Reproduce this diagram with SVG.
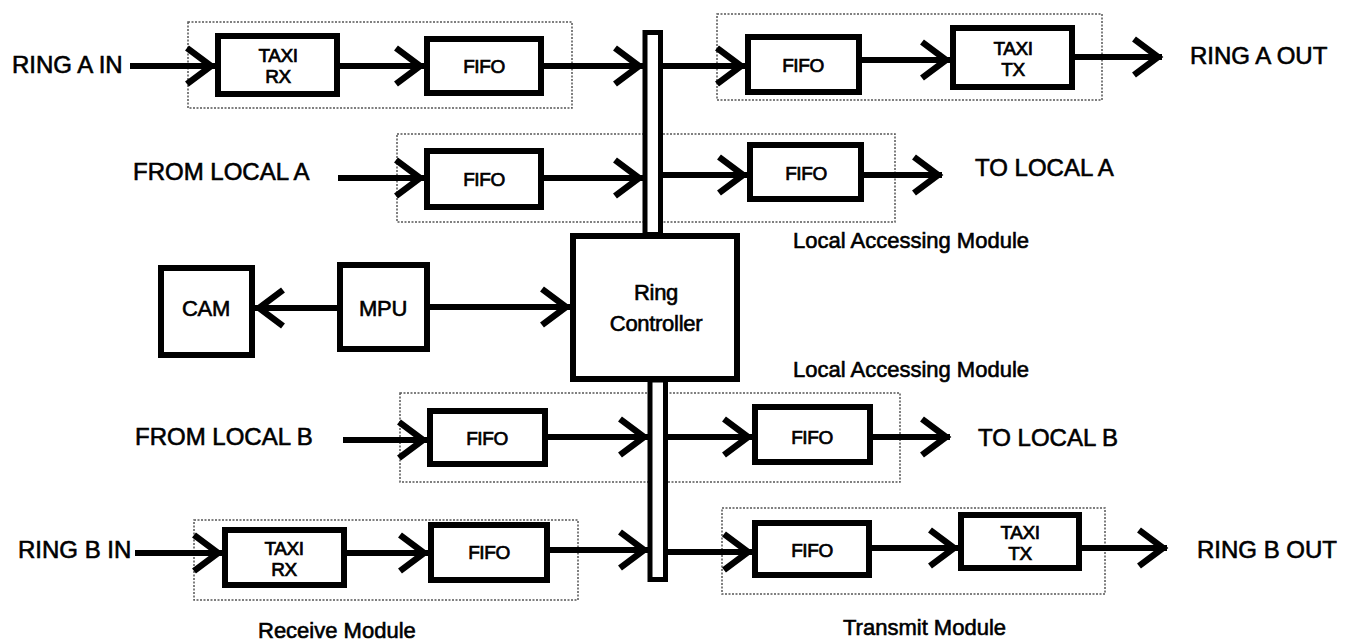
<svg xmlns="http://www.w3.org/2000/svg" width="1345" height="642" viewBox="0 0 1345 642">
  <style>
    .blk { fill: #fff; stroke: #000; stroke-width: 6; }
    .bus { fill: #fff; stroke: #000; stroke-width: 5; }
    .grp { fill: none; stroke: #555; stroke-width: 1.5; stroke-dasharray: 2 1.5; }
    .wire { fill: none; stroke: #000; stroke-width: 6; marker-end: url(#chev); }
    text { font-family: "Liberation Sans", Arial, sans-serif; fill: #000; stroke: #000; stroke-width: 0.6px; }
    .lbl { font-size: 24px; }
    .in { font-size: 19px; text-anchor: middle; letter-spacing: -0.4px; stroke-width: 0.7px; }
    .big { font-size: 22px; text-anchor: middle; letter-spacing: -0.3px; }
    .cap { font-size: 22px; }
  </style>
  <defs>
    <marker id="chev" viewBox="-6 -6 38 48" markerUnits="userSpaceOnUse" markerWidth="38" markerHeight="48" refX="28" refY="18" orient="auto">
      <path d="M0,0 L24,18 L0,36" fill="none" stroke="#000" stroke-width="6.5"/>
    </marker>
  </defs>
  <rect width="1345" height="642" fill="#fff"/>

  <!-- module outlines (dotted) -->
  <g id="modules">
    <rect class="grp" x="188" y="22" width="384" height="86"/>
    <rect class="grp" x="717" y="14" width="385" height="86"/>
    <rect class="grp" x="397" y="134" width="498" height="88"/>
    <rect class="grp" x="400" y="393" width="500" height="89"/>
    <rect class="grp" x="194" y="520" width="384" height="80"/>
    <rect class="grp" x="722" y="508" width="383" height="86"/>
  </g>

  <!-- connectors -->
  <g id="connectors">
    <!-- ring A -->
    <path class="wire" d="M130,66 H215"/>
    <path class="wire" d="M340,66 H424"/>
    <path class="wire" d="M544,66 H643"/>
    <path class="wire" d="M663,66 H745"/>
    <path class="wire" d="M862,60 H950"/>
    <path class="wire" d="M1075,57 H1162"/>
    <!-- local A -->
    <path class="wire" d="M338,178 H424"/>
    <path class="wire" d="M544,178 H643"/>
    <path class="wire" d="M663,175 H747"/>
    <path class="wire" d="M864,175 H942"/>
    <!-- MPU -->
    <path class="wire" d="M337,308 H255"/>
    <path class="wire" d="M430,307 H570"/>
    <!-- local B -->
    <path class="wire" d="M343,440 H427"/>
    <path class="wire" d="M548,437 H648"/>
    <path class="wire" d="M668,437 H752"/>
    <path class="wire" d="M873,437 H950"/>
    <!-- ring B -->
    <path class="wire" d="M135,553 H222"/>
    <path class="wire" d="M347,553 H428"/>
    <path class="wire" d="M550,550 H648"/>
    <path class="wire" d="M668,552 H752"/>
    <path class="wire" d="M872,548 H958"/>
    <path class="wire" d="M1082,548 H1167"/>
  </g>

  <!-- shared bus -->
  <g id="bus">
    <rect class="bus" x="645" y="32.5" width="15.5" height="202"/>
    <rect class="bus" x="650" y="380" width="15.5" height="199.5"/>
  </g>

  <g id="ring-controller">
    <rect class="blk" x="573" y="236" width="164" height="143"/>
    <text class="big" x="656" y="300" font-size="24">Ring</text>
    <text class="big" x="656" y="331" font-size="24">Controller</text>
  </g>

  <g id="rx-a-taxi">
    <rect class="blk" x="218" y="36" width="119" height="58"/>
    <text class="in" x="278" y="62">TAXI</text>
    <text class="in" x="278" y="83">RX</text>
  </g>
  <g id="rx-a-fifo">
    <rect class="blk" x="427" y="39" width="114" height="54"/>
    <text class="in" x="484" y="73">FIFO</text>
  </g>
  <g id="tx-a-fifo">
    <rect class="blk" x="748" y="37" width="111" height="55"/>
    <text class="in" x="803" y="72">FIFO</text>
  </g>
  <g id="tx-a-taxi">
    <rect class="blk" x="953" y="28" width="119" height="59"/>
    <text class="in" x="1013" y="55">TAXI</text>
    <text class="in" x="1013" y="76">TX</text>
  </g>

  <g id="local-a-in-fifo">
    <rect class="blk" x="427" y="151" width="114" height="56"/>
    <text class="in" x="484" y="186">FIFO</text>
  </g>
  <g id="local-a-out-fifo">
    <rect class="blk" x="750" y="145" width="111" height="54"/>
    <text class="in" x="806" y="180">FIFO</text>
  </g>

  <g id="cam">
    <rect class="blk" x="161" y="268" width="91" height="87"/>
    <text class="big" x="206" y="316">CAM</text>
  </g>
  <g id="mpu">
    <rect class="blk" x="340" y="265" width="87" height="84"/>
    <text class="big" x="383" y="316">MPU</text>
  </g>

  <g id="local-b-in-fifo">
    <rect class="blk" x="430" y="411" width="115" height="53"/>
    <text class="in" x="487" y="445">FIFO</text>
  </g>
  <g id="local-b-out-fifo">
    <rect class="blk" x="755" y="407" width="115" height="55"/>
    <text class="in" x="812" y="444">FIFO</text>
  </g>

  <g id="rx-b-taxi">
    <rect class="blk" x="225" y="530" width="119" height="55"/>
    <text class="in" x="284" y="555">TAXI</text>
    <text class="in" x="284" y="576">RX</text>
  </g>
  <g id="rx-b-fifo">
    <rect class="blk" x="431" y="525" width="116" height="55"/>
    <text class="in" x="489" y="559">FIFO</text>
  </g>
  <g id="tx-b-fifo">
    <rect class="blk" x="755" y="523" width="114" height="52"/>
    <text class="in" x="812" y="557">FIFO</text>
  </g>
  <g id="tx-b-taxi">
    <rect class="blk" x="961" y="515" width="118" height="53"/>
    <text class="in" x="1020" y="539">TAXI</text>
    <text class="in" x="1020" y="560">TX</text>
  </g>

  <!-- port and module labels -->
  <g id="labels">
    <text class="lbl" x="12" y="73">RING A IN</text>
    <text class="lbl" x="1190" y="64">RING A OUT</text>
    <text class="lbl" x="133" y="180">FROM LOCAL A</text>
    <text class="lbl" x="975" y="176">TO LOCAL A</text>
    <text class="cap" x="793" y="248">Local Accessing Module</text>
    <text class="cap" x="793" y="377">Local Accessing Module</text>
    <text class="lbl" x="135" y="445">FROM LOCAL B</text>
    <text class="lbl" x="978" y="446">TO LOCAL B</text>
    <text class="lbl" x="18" y="558">RING B IN</text>
    <text class="lbl" x="1197" y="558">RING B OUT</text>
    <text class="cap" x="258" y="638">Receive Module</text>
    <text class="cap" x="843" y="635">Transmit Module</text>
  </g>
</svg>
